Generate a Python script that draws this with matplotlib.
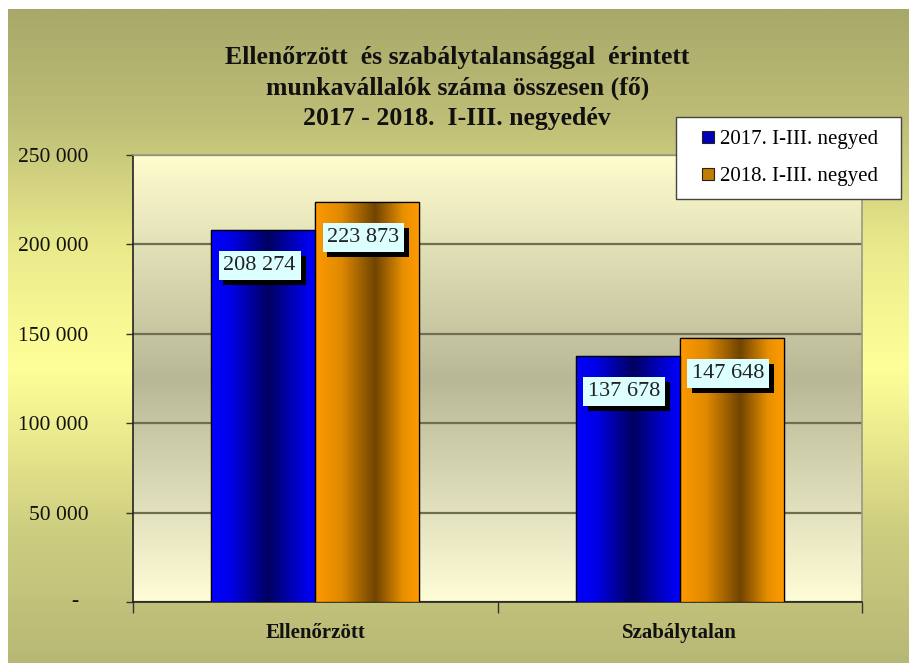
import numpy as np
import matplotlib
matplotlib.use("Agg")
import matplotlib.pyplot as plt
import matplotlib.patheffects as pe
from matplotlib.colors import LinearSegmentedColormap
from matplotlib.lines import Line2D

categories = ["Ellenőrzött", "Szabálytalan"]
series_names = ["2017. I-III. negyed", "2018. I-III. negyed"]
values_2017 = [208274, 137678]
values_2018 = [223873, 147648]
ytick_values = [0, 50000, 100000, 150000, 200000, 250000]
title_lines = [
    "Ellenőrzött  és szabálytalansággal  érintett",
    "munkavállalók száma összesen (fő)",
    "2017 - 2018.  I-III. negyedév",
]

plt.rcParams["font.family"] = ["Liberation Serif", "DejaVu Serif"]

FIG_W, FIG_H = 909, 663
fig = plt.figure(figsize=(FIG_W / 100, FIG_H / 100), dpi=100)
fig.patch.set_facecolor("white")

# figure background: olive top/bottom, bright yellow in the middle
bg = fig.add_axes([8 / FIG_W, 0, 1 - 8 / FIG_W, 1 - 9 / FIG_H], zorder=-10)
bg_cmap = LinearSegmentedColormap.from_list("bg", [
    (0.00, "#a8a86a"), (0.17, "#bebe77"), (0.37, "#ebeb8c"),
    (0.55, "#ffff99"), (0.80, "#cdcd80"), (1.00, "#b8b876")])
bg.imshow(np.linspace(0, 1, 256).reshape(-1, 1), cmap=bg_cmap, aspect="auto",
          extent=[0, 1, 1, 0])
bg.set_axis_off()

ax = fig.add_axes([133 / FIG_W, 61 / FIG_H, 729 / FIG_W, 447 / FIG_H])
x = np.arange(len(categories))
width = 0.285
ax.set_xlim(-0.5, len(categories) - 0.5)
ax.set_ylim(0, 250000)

# plot area: cream at top/bottom, grey-olive in the middle
pa_cmap = LinearSegmentedColormap.from_list("pa", [
    (0.0, "#fffcce"), (0.5, "#b8b896"), (1.0, "#fffdd8")])
ax.imshow(np.linspace(0, 1, 256).reshape(-1, 1), cmap=pa_cmap, aspect="auto",
          extent=[-0.5, len(categories) - 0.5, 0, 250000], zorder=0)

blue_cmap = LinearSegmentedColormap.from_list("blue", [
    (0.0, "#0000ff"), (0.2, "#0000e6"), (0.55, "#000060"), (0.85, "#0000d0"), (1.0, "#0000ff")])
orange_cmap = LinearSegmentedColormap.from_list("orange", [
    (0.0, "#ff9900"), (0.25, "#e08a00"), (0.58, "#704400"), (0.85, "#e89000"), (1.0, "#ff9a00")])

bars_a = ax.bar(x - width / 2, values_2017, width, color="#0000cc", edgecolor="black",
                linewidth=0.9, zorder=3)
bars_b = ax.bar(x + width / 2, values_2018, width, color="#cc8400", edgecolor="black",
                linewidth=0.9, zorder=3)

grad = np.linspace(0, 1, 256).reshape(1, -1)
for bars, cmap in ((bars_a, blue_cmap), (bars_b, orange_cmap)):
    for rect in bars:
        x0, w, h = rect.get_x(), rect.get_width(), rect.get_height()
        im = ax.imshow(grad, cmap=cmap, aspect="auto", extent=[x0, x0 + w, 0, h], zorder=3.5)
        im.set_clip_path(rect)
        ax.add_patch(plt.Rectangle((x0, 0), w, h, fill=False, edgecolor="black",
                                   linewidth=0.9, zorder=4))

# value labels in pale cyan boxes with a dark shadow
for bars in (bars_a, bars_b):
    for rect in bars:
        v = rect.get_height()
        t = ax.text(rect.get_x() + rect.get_width() / 2 - 0.01, v - 20000,
                    f"{v:,.0f}".replace(",", " "), ha="center", va="center",
                    fontsize=16, color="#222222", zorder=6,
                    bbox=dict(boxstyle="square,pad=0.22", facecolor="#dcffff", edgecolor="none"))
        t.get_bbox_patch().set_path_effects([
            pe.SimplePatchShadow(offset=(3.5, -3.5), shadow_rgbFace="black", alpha=1.0),
            pe.Normal()])

ax.set_yticks(ytick_values)
ax.set_yticklabels([""] + [f"{v:,.0f}".replace(",", " ") for v in ytick_values[1:]],
                   fontsize=15.5, color="#111111")
ax.text(-0.08, 0, "-", transform=ax.get_yaxis_transform(), ha="center", va="center",
        fontsize=15.5, color="#111111")
ax.tick_params(axis="y", length=5, width=1, color="#333333", pad=27)
ax.grid(axis="y", color="#6e6e50", linewidth=1.6, zorder=1)

ax.set_xticks(x)
ax.set_xticklabels(categories, fontsize=15, fontweight="bold", color="#111111")
ax.set_xticks([-0.5, 0.5, 1.5], minor=True)
ax.tick_params(axis="x", which="major", length=0, pad=15)
ax.tick_params(axis="x", which="minor", length=8, width=1, color="#333333")

for side in ("left", "bottom"):
    ax.spines[side].set_color("#222222")
    ax.spines[side].set_linewidth(1.2)
for side in ("top", "right"):
    ax.spines[side].set_color("#9a9a80")
    ax.spines[side].set_linewidth(1.2)

fig.text(0.503, 1 - 46 / FIG_H, "\n".join(title_lines), ha="center", va="top",
         fontsize=18.5, fontweight="bold", color="#111111", linespacing=1.4)

handles = [Line2D([], [], linestyle="none", marker="s", markersize=9,
                  markerfacecolor="#0000b8", markeredgecolor="#222222", markeredgewidth=0.8),
           Line2D([], [], linestyle="none", marker="s", markersize=9,
                  markerfacecolor="#c07c00", markeredgecolor="#222222", markeredgewidth=0.8)]
leg = fig.legend(handles, [s + "  " for s in series_names], loc="upper right",
                 bbox_to_anchor=(901 / FIG_W, 1 - 117 / FIG_H),
                 fontsize=15, frameon=True, fancybox=False, framealpha=1,
                 edgecolor="#444444", handlelength=1.9, handletextpad=-0.4,
                 labelspacing=0.85, borderpad=0.6, borderaxespad=0)
leg.get_frame().set_linewidth(1.0)
leg.set_zorder(20)

fig.savefig("out.png", dpi=100)
